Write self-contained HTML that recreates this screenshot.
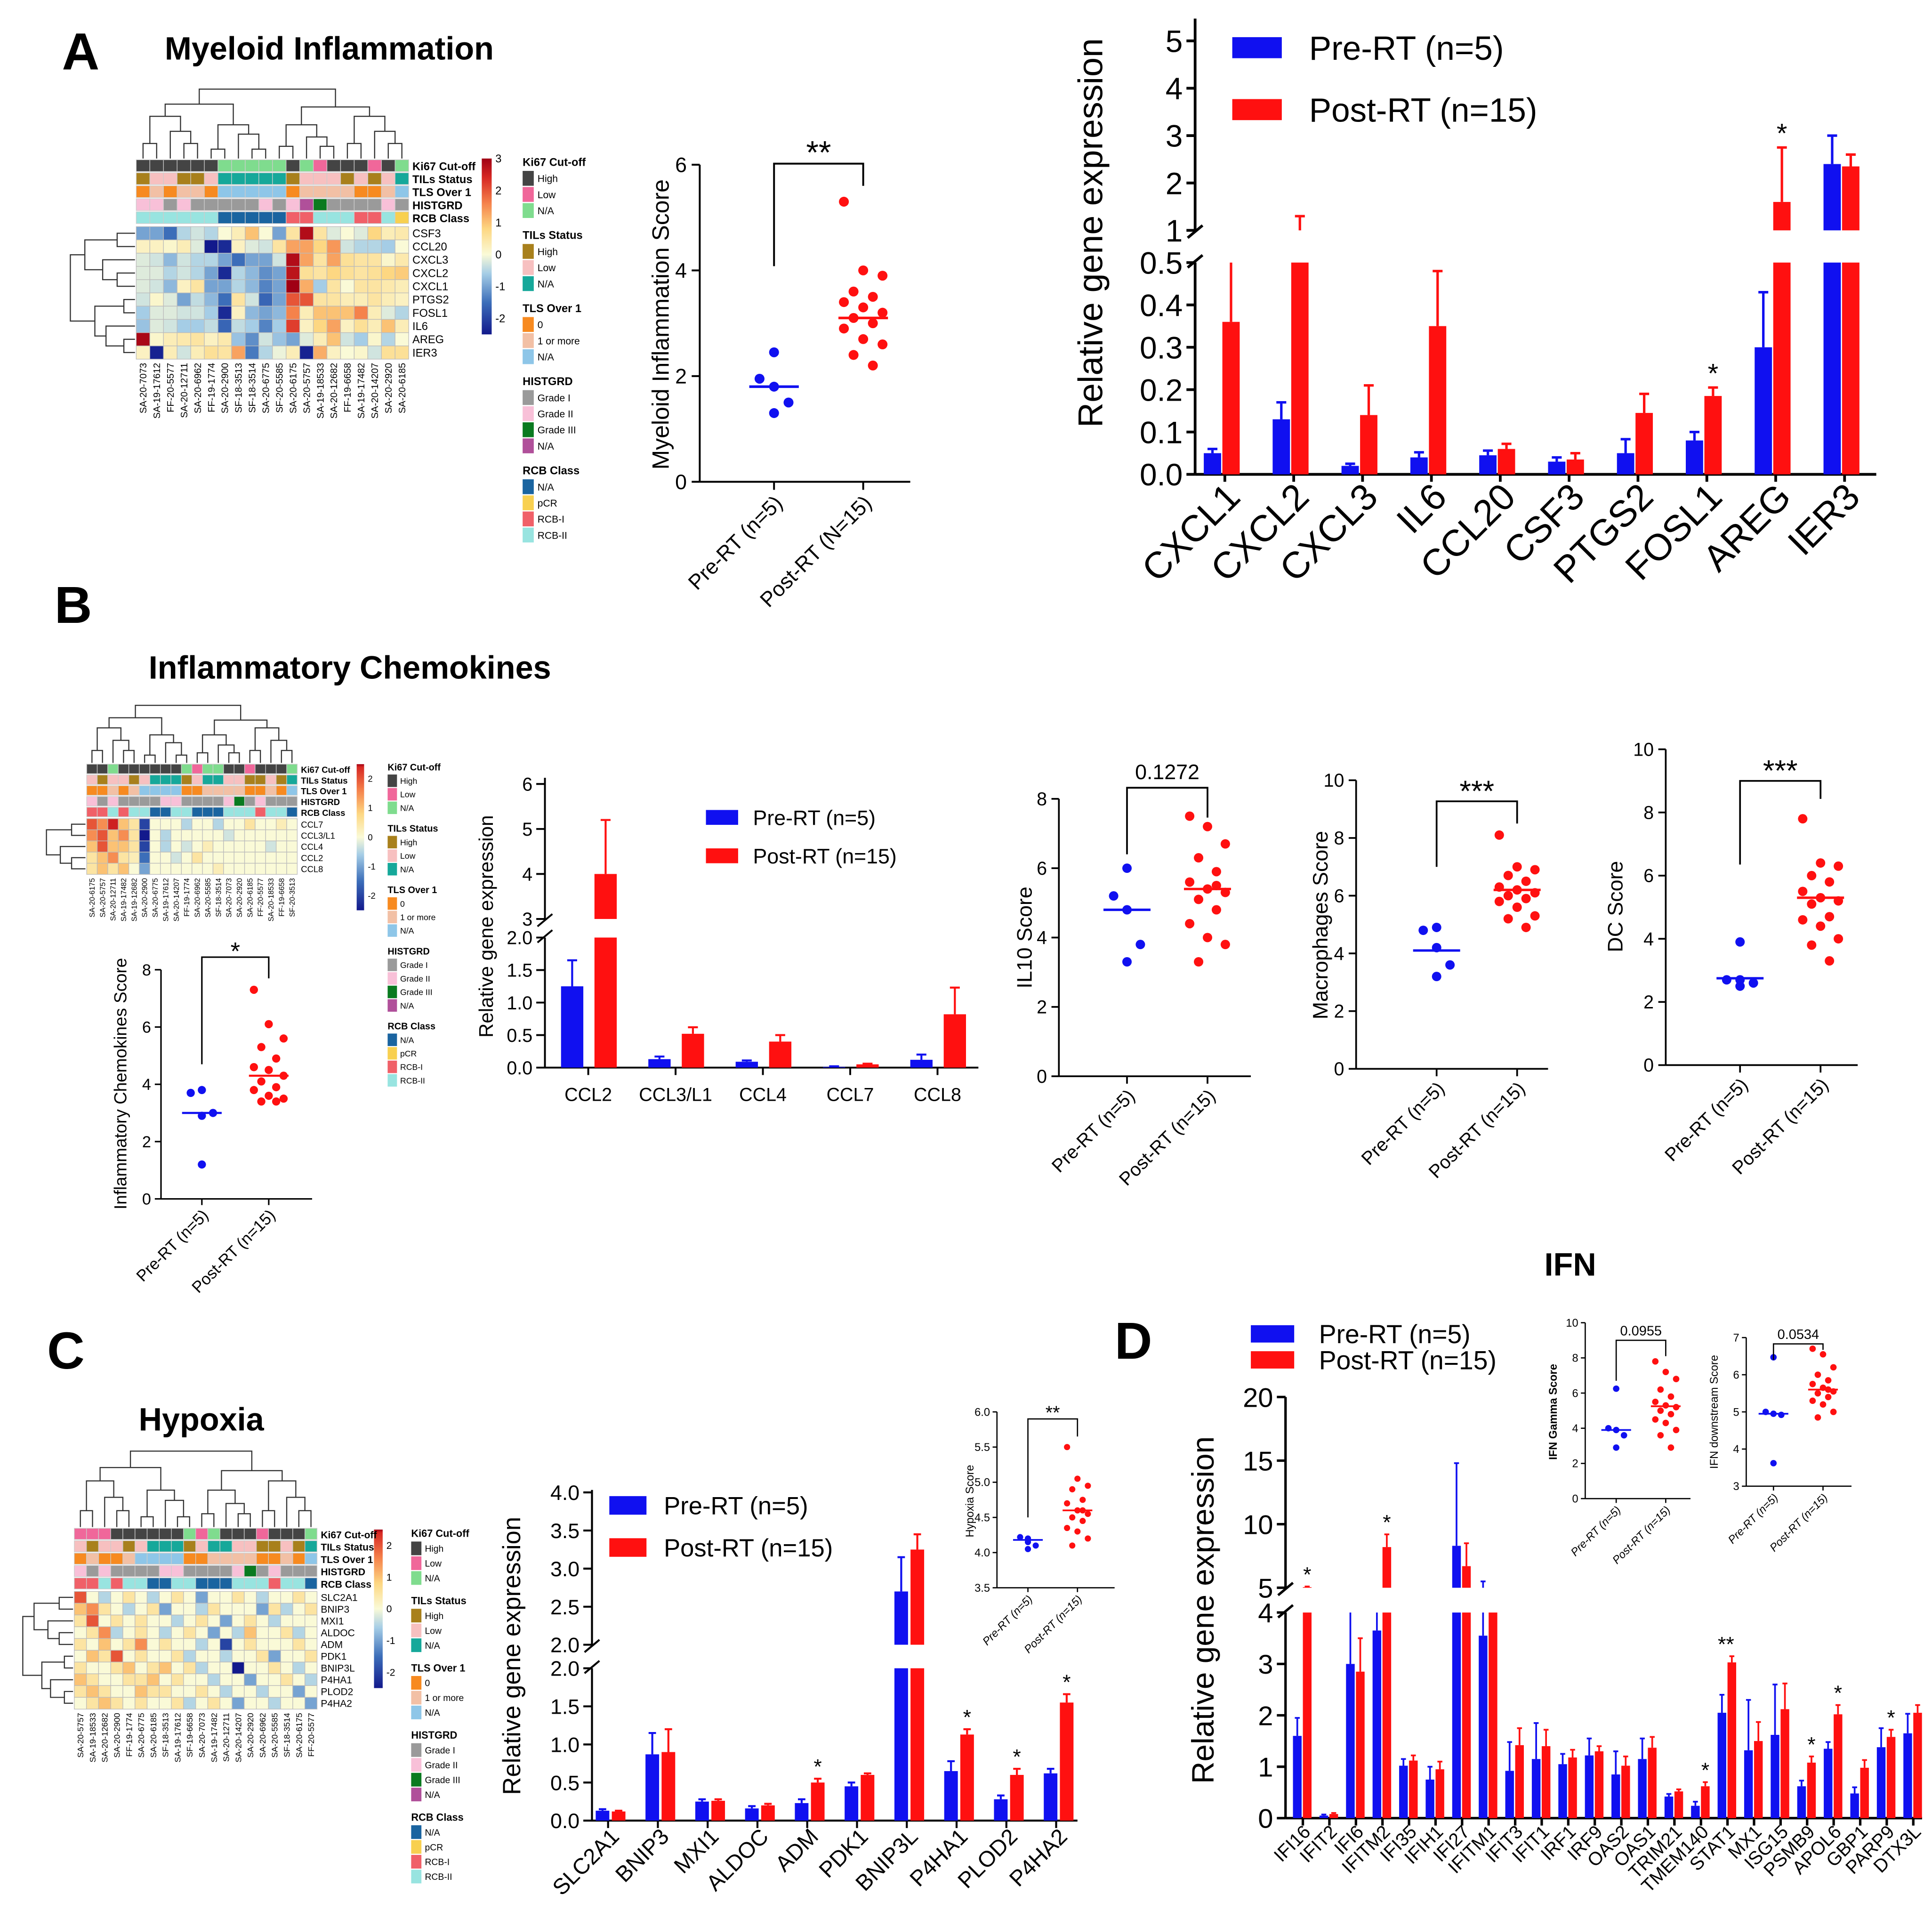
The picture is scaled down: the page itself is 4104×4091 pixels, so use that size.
<!DOCTYPE html>
<html><head><meta charset="utf-8"><style>
html,body{margin:0;padding:0;background:#fff}
svg{display:block}
text{font-family:"Liberation Sans",Arial,sans-serif;fill:#000}
</style></head><body>
<svg id="fig" xmlns="http://www.w3.org/2000/svg" width="4104" height="4091" viewBox="0 0 1560 1555.1" preserveAspectRatio="none">
<defs id="defs"></defs>
<rect x="0" y="0" width="1560" height="1556" fill="#fff"/>
</svg>
<script>
// ---------- DATA ----------
const groups=["Pre-RT (n=5)","Post-RT (n=15)"];
// Panel A scatter
const myeloidPre=[2.45,1.95,1.8,1.5,1.3];
const myeloidPost=[5.3,4.0,3.9,3.6,3.5,3.4,3.3,3.2,3.1,3.0,2.9,2.7,2.6,2.4,2.2];
const myeloidMed=[1.8,3.1];
// Panel A bars
const genesA=["CXCL1","CXCL2","CXCL3","IL6","CCL20","CSF3","PTGS2","FOSL1","AREG","IER3"];
const preA=[0.05,0.13,0.02,0.04,0.045,0.03,0.05,0.08,0.30,2.4];
const preAerr=[0.06,0.17,0.025,0.052,0.056,0.04,0.083,0.10,0.43,3.0];
const postA=[0.36,0.8,0.14,0.35,0.06,0.035,0.145,0.185,1.6,2.35];
const postAerr=[0.6,1.3,0.21,0.48,0.072,0.05,0.19,0.205,2.75,2.6];
const sigA=["","","","","","","","*","*",""];
// Panel B scatters
const chemPre=[3.8,3.7,2.9,3.0,1.2];
const chemPost=[7.3,6.1,5.6,5.3,4.9,4.6,4.5,4.3,4.1,3.9,3.8,3.6,3.5,3.4,3.4];
const chemMed=[3.0,4.3];
const il10Pre=[6.0,5.2,4.8,3.8,3.3];
const il10Post=[7.5,7.2,6.7,6.3,5.9,5.6,5.4,5.3,5.1,4.8,4.4,4.0,3.8,3.3,5.5];
const il10Med=[4.8,5.4];
const macPre=[4.9,4.8,4.2,3.6,3.2];
const macPost=[8.1,7.0,6.9,6.7,6.5,6.3,6.2,6.1,6.0,5.9,5.8,5.6,5.3,5.2,4.9];
const macMed=[4.1,6.2];
const dcPre=[3.9,2.7,2.7,2.6,2.5];
const dcPost=[7.8,6.4,6.3,6.0,5.8,5.5,5.3,5.2,5.1,4.7,4.6,4.4,4.0,3.8,3.3];
const dcMed=[2.75,5.3];
// Panel B bars
const genesB=["CCL2","CCL3/L1","CCL4","CCL7","CCL8"];
const preB=[1.25,0.13,0.09,0.01,0.12];
const preBerr=[1.65,0.17,0.11,0.02,0.2];
const postB=[4.0,0.52,0.40,0.05,0.82];
const postBerr=[5.2,0.62,0.5,0.06,1.23];
// Panel C
const genesC=["SLC2A1","BNIP3","MXI1","ALDOC","ADM","PDK1","BNIP3L","P4HA1","PLOD2","P4HA2"];
const preC=[0.13,0.87,0.25,0.16,0.23,0.45,2.7,0.65,0.28,0.62];
const preCerr=[0.15,1.15,0.28,0.19,0.28,0.5,3.15,0.78,0.33,0.68];
const postC=[0.12,0.9,0.26,0.2,0.5,0.6,3.25,1.13,0.6,1.55];
const postCerr=[0.13,1.2,0.28,0.22,0.55,0.62,3.45,1.2,0.68,1.66];
const sigC=["","","","","*","","","*","*","*"];
const hypPre=[4.2,4.22,4.15,4.1,4.05];
const hypPost=[5.5,5.05,4.95,4.9,4.75,4.7,4.6,4.55,4.5,4.45,4.35,4.3,4.2,4.1,4.6];
const hypMed=[4.18,4.6];
// Panel D
const genesD=["IFI16","IFIT2","IFI6","IFITM2","IFI35","IFIH1","IFI27","IFITM1","IFIT3","IFIT1","IRF1","IRF9","OAS2","OAS1","TRIM21","TMEM140","STAT1","MX1","ISG15","PSMB9","APOL6","GBP1","PARP9","DTX3L"];
const preD=[1.6,0.05,3.0,3.65,1.02,0.75,8.3,3.55,0.92,1.15,1.05,1.22,0.85,1.15,0.42,0.24,2.05,1.32,1.62,0.62,1.35,0.48,1.38,1.65];
const preDerr=[1.95,0.07,4.4,4.4,1.15,1.0,14.8,5.5,1.48,1.85,1.25,1.55,1.3,1.55,0.47,0.32,2.4,2.3,2.6,0.73,1.48,0.6,1.75,2.03];
const postD=[5.05,0.08,2.85,8.2,1.12,0.95,6.7,4.5,1.42,1.4,1.18,1.3,1.02,1.37,0.52,0.62,3.03,1.5,2.12,1.08,2.02,0.98,1.58,2.05];
const postDerr=[5.1,0.1,3.5,9.2,1.22,1.1,8.5,4.6,1.75,1.72,1.33,1.4,1.2,1.58,0.56,0.7,3.15,1.87,2.62,1.2,2.2,1.13,1.72,2.2];
const sigD=["*","","","*","","","","","","","","","","","","*","**","","","*","*","","*",""];
const ifngPre=[6.25,4.0,3.9,3.6,2.9];
const ifngPost=[7.8,7.2,6.8,6.2,5.8,5.5,5.3,5.2,5.0,4.8,4.5,4.3,3.9,3.6,2.9];
const ifngMed=[3.9,5.25];
const ifndPre=[6.47,5.0,4.95,4.92,3.62];
const ifndPost=[6.7,6.55,6.2,6.0,5.85,5.75,5.65,5.55,5.5,5.4,5.3,5.2,5.0,4.85,5.6];
const ifndMed=[4.95,5.6];
// Heatmaps
const colsA=["SA-20-7073","SA-19-17612","FF-20-5577","SA-20-12711","SA-20-6962","FF-19-1774","SA-20-2900","SF-18-3513","SF-18-3514","SA-20-6775","SF-20-5585","SA-20-6175","SA-20-5757","SA-19-18533","SA-20-12682","FF-19-6658","SA-19-17482","SA-20-14207","SA-20-2920","SA-20-6185"];
const rowsA=["CSF3","CCL20","CXCL3","CXCL2","CXCL1","PTGS2","FOSL1","IL6","AREG","IER3"];
const valsA=[
"-1 -1 -1.5 -0.5 -0.3 -0.5 0 0.3 1 0 -1 0.5 2.8 0.5 -0.2 0 -0.2 0.8 0.3 0.4",
"0.2 0.2 0.1 0.3 -0.2 -2.5 -2.3 0.2 -0.2 -0.3 0.5 1.3 1.3 0.8 1.4 -0.3 -0.5 -0.5 -0.6 0",
"-0.2 -0.3 -0.8 -0.3 -0.5 -0.5 -1 -1.5 -1 -1 -0.3 2.8 1.3 0.5 1.3 0.6 0.5 0.5 0.1 0.4",
"-0.2 -0.2 -0.5 -0.3 -0.5 -1 -2.3 -0.5 -0.8 -1.2 -1 2.7 0.6 0.5 0.8 0.6 0.5 0.6 0.8 0.9",
"-0.2 -0.3 -0.8 0.2 0.5 -1 -1 -0.5 -0.8 -1.3 -1 3 1.2 -0.6 0.5 0 0.5 0.5 0.4 0.3",
"-0.3 0.1 -0.2 -1 -0.4 -0.8 -1.5 0.5 -0.3 -1.6 -1 2 2 0.5 0.5 0.3 0.3 0.5 0.3 0.2",
"-0.6 -0.2 -0.2 -0.3 -0.3 -0.6 -2.3 0.2 -0.8 -1 -0.8 1.6 0.3 1 1 1 1.6 0.3 -0.2 -0.5",
"-0.7 -0.2 -0.3 -0.6 -0.6 -0.4 -1.6 -0.4 -0.6 -1.3 -0.6 2.2 0.2 0.8 1.3 0.2 0.6 0.3 1 0.3",
"2.9 0.1 0.3 0.4 0.5 0.2 0.4 -0.7 -1.2 -0.3 -0.7 -1 -0.2 0.3 1 -0.3 -0.6 0.1 -0.5 0",
"0.2 -2.4 0.3 -0.3 0.3 0.6 0.5 1.3 -1.4 -0.5 -0.1 0.3 -2.4 1.2 0.2 0 0.1 -0.3 0.6 0.6"];
const annA=["00000022222021000102","01100122222011101012","01011022222011110012","11010000010132000010","33333300000223332231"];
const colsB=["SA-20-6175","SA-20-5757","SA-20-12711","SA-19-17482","SA-19-12682","SA-20-2900","SA-20-6775","SA-19-17612","SA-20-14207","FF-19-1774","SA-20-6962","SA-20-5585","SF-18-3514","SA-20-7073","SA-20-2920","SA-20-6185","FF-20-5577","SA-20-18533","FF-19-6658","SF-20-3513"];
const rowsB=["CCL7","CCL3/L1","CCL4","CCL2","CCL8"];
const valsB=[
"2 1.5 2.5 1 0.5 -2 0 0 0 -0.5 0 0 -0.5 0 0 0.5 0 0 0.3 0",
"1.5 2 1 1.5 0.5 -2.5 0 -0.5 0 0 0 0 0 -0.3 0 0 0 0 0 0",
"1 2 1 1 0.5 -2 0 -0.5 0 -0.3 0 0.3 0 0 0 0 0 -0.3 0 0",
"0.5 1 1.5 0.5 0.3 -1.5 0 0 -0.3 0 0.5 0 0 0 0 0 0 0 0 0",
"0.5 1 0.5 1 0 -1 0 0 0 0 0 0 0.3 0 0 0 0 0 0 0"];
const annB=["00200000021220010002","10110122201221100102","00101222200111100102","10100001100001201000","22323300330003332330"];
const colsC=["SA-20-5757","SA-19-18533","SA-20-12682","SA-20-2900","FF-19-1774","SA-20-6775","SA-20-6185","SF-18-3513","SA-19-17612","SF-19-6658","SA-20-7073","SA-19-17482","SA-20-12711","SA-20-14207","SA-20-2920","SA-20-6962","SA-20-5585","SF-18-3514","SA-20-6175","FF-20-5577"];
const rowsC=["SLC2A1","BNIP3","MXI1","ALDOC","ADM","PDK1","BNIP3L","P4HA1","PLOD2","P4HA2"];
const valsC=[
"2 0 -0.5 0 0.5 0 -0.5 0 0.5 0 -1 0 0 0.5 0 -0.5 0 0 0.5 0",
"1 1.5 0.5 0 -0.5 0 0.5 -1 0 0 -0.5 0.5 0 0 0 -1 0.5 -0.5 0 0.5",
"0.5 2 0 0.5 0 0.5 0 0 -0.5 0 0.5 0 -1 0 0.5 0 -0.5 0 0 0",
"0 0.5 1.5 -0.5 0 0.5 0 -0.5 0 0.5 0 -1 0 -0.5 1 0 0 0.5 -0.5 0",
"0.5 0 1 0 0.5 1.5 0 0.5 0 0 -0.5 0 -2 0 0.5 0 0 0 0.5 0",
"0 1 0.5 2 0 0.5 0 0 0.5 -0.5 0 0 -0.5 0 0 0.5 -1 0 0 0.5",
"0.5 0 0 0.5 1 0 0.5 1 0 0.5 -0.5 0 0 -2.5 0 0 0.5 0 -0.5 0",
"1 0.5 0 0 0.5 0.5 1 0 0.5 0 0 -0.5 0 0 -1 0 0 0.5 0 -0.5",
"0.5 1 0.5 0 0 1 0.5 0.5 0 0 0.5 0 -0.5 0 0 -0.5 0 0 -1 0",
"0 0.5 1 0.5 0 0.5 0 0 0.5 -0.5 0 0.5 0 -1 0 0 -0.5 0 0 -1"];
const annC=["11100000021200010002","10110122201221100102","01001222200111100102","10100001100001201000","22323300330003332330"];

// ---------- HELPERS ----------
const NS='http://www.w3.org/2000/svg';
const svg=document.getElementById('fig');
const defs=document.getElementById('defs');
function mk(tag,attrs,parent){const e=document.createElementNS(NS,tag);for(const k in attrs)e.setAttribute(k,attrs[k]);(parent||svg).appendChild(e);return e;}
function tx(x,y,s,size,extra){const o=Object.assign({x:x,y:y,'font-size':size},extra||{});const e=mk('text',o);e.textContent=s;return e;}
const BLUE='#1010f0',RED='#ff1010';
function ln(x1,y1,x2,y2,w,c){return mk('line',{x1:x1,y1:y1,x2:x2,y2:y2,stroke:c||'#000','stroke-width':w||1.5});}

// Titles
let t;
t=tx(50,56,"A",42,{'font-weight':'bold'});


t=tx(133,48,"Myeloid Inflammation",26,{'font-weight':'bold'});


t=tx(44,503,"B",42,{'font-weight':'bold'});


t=tx(120,548,"Inflammatory Chemokines",26,{'font-weight':'bold'});


t=tx(38,1105,"C",42,{'font-weight':'bold'});


t=tx(112,1155,"Hypoxia",26,{'font-weight':'bold'});


t=tx(900,1097,"D",42,{'font-weight':'bold'});


t=tx(1247,1030,"IFN",26,{'font-weight':'bold'});



// ---------- SCATTER ----------
function scatter(c){
  const g=mk('g',{});
  
  
  const y=v=>c.y0-(v-c.min)/(c.max-c.min)*(c.y0-c.y1);
  ln(c.ax,c.y0,c.ax,y(c.max),c.lw,'#000');
  ln(c.ax,c.y0,c.xEnd,c.y0,c.lw,'#000');
  c.ticks.forEach(v=>{ln(c.ax-5*c.s,y(v),c.ax,y(v),c.lw);
    const e=tx(c.ax-8*c.s,y(v)+c.fs*0.35,v.toFixed(c.dec),c.fs,{'text-anchor':'end'});
    
    });
  const yl=tx(0,0,c.ylabel,c.yfs,{'text-anchor':'middle',transform:`translate(${c.ylx},${c.yly}) rotate(-90)`,'font-weight':c.ybold?'bold':'normal'});
  
  
  c.cats.forEach((cx,i)=>{ln(cx,c.y0,cx,c.y0+5*c.s,c.lw);
    const e=tx(0,0,c.catLabels[i],c.fs,{'text-anchor':'end',transform:`translate(${cx+6*c.s},${c.y0+14*c.s}) rotate(-45)`,'font-style':c.italic?'italic':'normal'});
    
    });
  const sets=[c.pre,c.post],cols=[BLUE,RED];
  sets.forEach((arr,k)=>{
    arr.forEach((v,i)=>{const off=k==0?[0,-9,0,9,0][i%5]:[-12,-6,0,6,12][(i*2)%5];
      const p=mk('circle',{cx:c.cats[k]+off*c.s,cy:y(v),r:c.r,fill:cols[k]});
      
      });
    const m=ln(c.cats[k]-c.mw,y(c.med[k]),c.cats[k]+c.mw,y(c.med[k]),c.lw*1.4,cols[k]);
    
    
  });
  const b=mk('path',{d:`M${c.cats[0]} ${y(c.brL)}V${y(c.brT)}H${c.cats[1]}V${y(c.brR)}`,fill:'none',stroke:'#000','stroke-width':c.lw});
  
  
  const st=tx((c.cats[0]+c.cats[1])/2,y(c.brT)-c.sigOff,c.sig,c.sigfs,{'text-anchor':'middle'});
  
  
}
scatter({name:'myeloid-score-plot',ax:565,xEnd:735,y0:389,y1:133,min:0,max:6,ticks:[0,2,4,6],dec:0,fs:17,s:1.3,lw:1.5,cats:[625,697],catLabels:groups.map(s=>s.replace('n=15','N=15')),pre:myeloidPre,post:myeloidPost,med:myeloidMed,r:4,mw:20,ylabel:"Myeloid Inflammation Score",yfs:19,ylx:540,yly:262,brT:6.02,brL:4.08,brR:5.6,sig:"**",sigfs:26,sigOff:0});
scatter({name:'inflammatory-chemokines-score-plot',ax:130,xEnd:252,y0:968,y1:783,min:0,max:8,ticks:[0,2,4,6,8],dec:0,fs:13,s:1,lw:1.2,cats:[163,217],catLabels:groups,pre:chemPre,post:chemPost,med:chemMed,r:3.3,mw:16,ylabel:"Inflammatory Chemokines Score",yfs:14,ylx:102,yly:875,brT:8.44,brL:4.7,brR:7.7,sig:"*",sigfs:20,sigOff:-2});
scatter({name:'il10-score-plot',ax:855,xEnd:1010,y0:869,y1:645,min:0,max:8,ticks:[0,2,4,6,8],dec:0,fs:15,s:1.2,lw:1.4,cats:[910,975],catLabels:groups,pre:il10Pre,post:il10Post,med:il10Med,r:3.8,mw:19,ylabel:"IL10 Score",yfs:17,ylx:833,yly:757,brT:8.32,brL:6.4,brR:7.46,sig:"0.1272",sigfs:17,sigOff:7});
scatter({name:'macrophages-score-plot',ax:1095,xEnd:1250,y0:863,y1:630,min:0,max:10,ticks:[0,2,4,6,8,10],dec:0,fs:15,s:1.2,lw:1.4,cats:[1160,1225],catLabels:groups,pre:macPre,post:macPost,med:macMed,r:3.8,mw:19,ylabel:"Macrophages Score",yfs:17,ylx:1072,yly:747,brT:9.27,brL:7.0,brR:8.5,sig:"***",sigfs:24,sigOff:0});
scatter({name:'dc-score-plot',ax:1345,xEnd:1500,y0:860,y1:605,min:0,max:10,ticks:[0,2,4,6,8,10],dec:0,fs:15,s:1.2,lw:1.4,cats:[1405,1470],catLabels:groups,pre:dcPre,post:dcPost,med:dcMed,r:3.8,mw:19,ylabel:"DC Score",yfs:17,ylx:1310,yly:732,brT:9.0,brL:6.35,brR:8.43,sig:"***",sigfs:24,sigOff:0});
scatter({name:'hypoxia-score-inset',ax:805,xEnd:900,y0:1282,y1:1140,min:3.5,max:6,ticks:[3.5,4,4.5,5,5.5,6],dec:1,fs:9,s:0.7,lw:1,cats:[830,870],catLabels:groups,pre:hypPre,post:hypPost,med:hypMed,r:2.5,mw:12,ylabel:"Hypoxia Score",yfs:9,ylx:786,yly:1212,brT:5.9,brL:4.5,brR:5.65,sig:"**",sigfs:15,sigOff:0,italic:true});
scatter({name:'ifn-gamma-score-inset',ax:1280,xEnd:1365,y0:1210,y1:1068,min:0,max:10,ticks:[0,2,4,6,8,10],dec:0,fs:9,s:0.7,lw:1,cats:[1305,1345],catLabels:groups,pre:ifngPre,post:ifngPost,med:ifngMed,r:2.6,mw:12,ylabel:"IFN Gamma Score",yfs:9,ybold:true,ylx:1257,yly:1140,brT:9.0,brL:6.7,brR:8.1,sig:"0.0955",sigfs:11,sigOff:4,italic:true});
scatter({name:'ifn-downstream-score-inset',ax:1410,xEnd:1495,y0:1200,y1:1080,min:3,max:7,ticks:[3,4,5,6,7],dec:0,fs:9,s:0.7,lw:1,cats:[1432,1472],catLabels:groups,pre:ifndPre,post:ifndPost,med:ifndMed,r:2.6,mw:12,ylabel:"IFN downstream Score",yfs:9,ylx:1387,yly:1140,brT:6.83,brL:6.4,brR:6.67,sig:"0.0534",sigfs:11,sigOff:4,italic:true});

// ---------- BARS ----------
function bars(c){
  const g=mk('g',{});
  
  
  const S=c.segs;
  const y=v=>{const s0=S[0];if(v<=s0.b)return s0.pa-(v-s0.a)/(s0.b-s0.a)*(s0.pa-s0.pb);
    const s1=S[1];if(v>=s1.a){const vv=Math.min(v,s1.top);return s1.pa-(vv-s1.a)/(s1.b-s1.a)*(s1.pa-s1.pb);}return s0.pb;};
  ln(c.ax,S[0].pa,c.ax,S[0].pb,c.lw);
  ln(c.ax,S[1].pa,c.ax,S[1].axEnd,c.lw);
  ln(c.ax,S[0].pa,c.xEnd,S[0].pa,c.lw);
  ln(c.ax-6,S[0].pb+4,c.ax+6,S[0].pb-6,c.lw);
  ln(c.ax-6,S[1].pa+6,c.ax+6,S[1].pa-4,c.lw);
  S.forEach(s=>s.ticks.forEach(v=>{const yy=s.pa-(v-s.a)/(s.b-s.a)*(s.pa-s.pb);ln(c.ax-7,yy,c.ax,yy,c.lw);
    const e=tx(c.ax-10,yy+c.fs*0.36,v.toFixed(s.dec),c.fs,{'text-anchor':'end'});
    
    }));
  const yl=tx(0,0,c.ylabel,c.yfs,{'text-anchor':'middle',transform:`translate(${c.ylx},${c.yly}) rotate(-90)`});
  
  
  const series=[[c.pre,c.preErr,BLUE,c.bOff],[c.post,c.postErr,RED,c.rOff]];
  c.cats.forEach((cat,i)=>{
    const cx=c.c0+i*c.sp;
    series.forEach((sr,k)=>{
      const v=sr[0][i],e=sr[1][i],x=cx+sr[3],col=sr[2];
      const h0=Math.min(v,S[0].b);
      const r1=mk('rect',{x:x,y:y(h0),width:c.bw,height:S[0].pa-y(h0),fill:col});
      
      
      if(v>S[1].a){const r2=mk('rect',{x:x,y:y(v),width:c.bw,height:S[1].pa-y(v),fill:col});
        
        }
      const ex=x+c.bw/2;
      let etop=null;
      if(e>v){
        if(v<=S[0].b){const top=Math.min(e,S[0].b);ln(ex,y(v),ex,y(top),c.ew,col);if(e<=S[0].b)etop=y(e);}
        if(e>=S[1].a){const from=Math.max(v,S[1].a);ln(ex,y(from),ex,y(e),c.ew,col);etop=y(e);}
        if(etop!==null)ln(ex-c.cap,etop,ex+c.cap,etop,c.ew,col);
      }
      if(k==1&&c.sig[i]){const st=tx(ex-(c.sig[i].length>1?c.sp*0.22:0),Math.min(y(e),y(v))-4,c.sig[i],c.sfs,{'text-anchor':'middle'});
        
        }
    });
    ln(cx,S[0].pa,cx,S[0].pa+6,c.lw);
    const lab=c.rot?tx(0,0,cat,c.xfs,{'text-anchor':'end',transform:`translate(${cx+c.xdx},${S[0].pa+c.xdy}) rotate(-45)`}):tx(cx,S[0].pa+c.xdy,cat,c.xfs,{'text-anchor':'middle'});
    
    
  });
  c.leg.forEach((L,k)=>{const r=mk('rect',{x:L[0],y:L[1],width:c.lw2,height:c.lh,fill:k?RED:BLUE});
    
    
    const e=tx(L[0]+c.lw2+c.lgap,L[1]+c.lh*0.5+c.lfs*0.36,groups[k],c.lfs);
    
    });
}
bars({name:'myeloid-gene-bar-chart',ax:965,xEnd:1515,lw:2.2,fs:25,segs:[{a:0,b:0.5,pa:383,pb:212,ticks:[0,0.1,0.2,0.3,0.4,0.5],dec:1},{a:1,b:5,pa:186,pb:33,top:5.5,axEnd:15,ticks:[1,2,3,4,5],dec:0}],
  cats:genesA,pre:preA,preErr:preAerr,post:postA,postErr:postAerr,sig:sigA,c0:989,sp:55.6,bw:14,bOff:-17,rOff:-2,ew:2,cap:4,sfs:22,
  rot:true,xfs:30,xdx:14,xdy:20,ylabel:"Relative gene expression",yfs:28,ylx:890,yly:188,
  leg:[[995,30],[995,80]],lw2:40,lh:17,lgap:22,lfs:27});
bars({name:'chemokine-gene-bar-chart',ax:440,xEnd:790,lw:1.5,fs:15,segs:[{a:0,b:2,pa:862,pb:757,ticks:[0,0.5,1,1.5,2],dec:1},{a:3,b:6,pa:742,pb:633,top:6,axEnd:628,ticks:[3,4,5,6],dec:0}],
  cats:genesB,pre:preB,preErr:preBerr,post:postB,postErr:postBerr,sig:["","","","",""],c0:475,sp:70.5,bw:18,bOff:-22,rOff:5,ew:1.6,cap:4,sfs:16,
  rot:false,xfs:15,xdx:0,xdy:27,ylabel:"Relative gene expression",yfs:16,ylx:398,yly:748,
  leg:[[570,654],[570,685]],lw2:26,lh:12,lgap:12,lfs:17});
bars({name:'hypoxia-gene-bar-chart',ax:478,xEnd:870,lw:1.6,fs:17,segs:[{a:0,b:2,pa:1470,pb:1347,ticks:[0,0.5,1,1.5,2],dec:1},{a:2.001,b:4,pa:1328,pb:1205,top:4,axEnd:1203,ticks:[2.001,2.5,3,3.5,4],dec:1}],
  cats:genesC,pre:preC,preErr:preCerr,post:postC,postErr:postCerr,sig:sigC,c0:491,sp:40.2,bw:11,bOff:-10,rOff:3,ew:1.6,cap:3,sfs:17,
  rot:true,xfs:18,xdx:10,xdy:14,ylabel:"Relative gene expression",yfs:20,ylx:420,yly:1337,
  leg:[[492,1208],[492,1242]],lw2:30,lh:15,lgap:14,lfs:20});
bars({name:'ifn-gene-bar-chart',ax:1038,xEnd:1552,lw:2,fs:22,segs:[{a:0,b:4,pa:1468,pb:1302,ticks:[0,1,2,3,4],dec:0},{a:5,b:20,pa:1282,pb:1128,top:20,axEnd:1128,ticks:[5,10,15,20],dec:0}],
  cats:genesD,pre:preD,preErr:preDerr,post:postD,postErr:postDerr,sig:sigD,c0:1052,sp:21.43,bw:7,bOff:-8,rOff:0,ew:1.4,cap:2,sfs:17,
  rot:true,xfs:15,xdx:7,xdy:12,ylabel:"Relative gene expression",yfs:25,ylx:980,yly:1300,
  leg:[[1010,1070],[1010,1091]],lw2:35,lh:14,lgap:20,lfs:21});

// ---------- HEATMAPS ----------
const stops=[[-2.5,[18,25,140]],[-1.5,[60,110,185]],[-0.6,[165,205,230]],[0,[250,250,215]],[0.8,[253,215,130]],[1.6,[245,130,75]],[2.4,[215,40,35]],[3,[160,0,20]]];
function cmap(v){if(v<=stops[0][0])return `rgb(${stops[0][1]})`;for(let i=1;i<stops.length;i++){if(v<=stops[i][0]){const a=stops[i-1],b=stops[i],f=(v-a[0])/(b[0]-a[0]);return 'rgb('+a[1].map((c,j)=>Math.round(c+(b[1][j]-c)*f)).join(',')+')';}}return `rgb(${stops[stops.length-1][1]})`;}
const pals=[["#444","#f0679a","#7fdc8e"],["#a8801c","#f7c0c0","#16a89a"],["#f78a20","#f2c0a5","#8ec6e8"],["#9a9a9a","#f8c0d8","#0a7a20","#b0509a"],["#1a64a0","#f8d050","#f06068","#98e4e0"]];
const annNames=["Ki67 Cut-off","TILs Status","TLS Over 1","HISTGRD","RCB Class"];
const legItems=[["High","Low","N/A"],["High","Low","N/A"],["0","1 or more","N/A"],["Grade I","Grade II","Grade III","N/A"],["N/A","pCR","RCB-I","RCB-II"]];
let gid=0;
function heat(c){
  const g=mk('g',{});
  
  
  const n=c.cols.length,W=n*c.cw;
  c.ann.forEach((row,r)=>{for(let j=0;j<n;j++){const e=mk('rect',{x:c.x+j*c.cw,y:c.ya+r*c.ah,width:c.cw,height:c.ah-1,fill:pals[r][+row[j]],stroke:'#ccc','stroke-width':0.5},g);
      
      }
    const l=tx(c.x+W+3,c.ya+r*c.ah+c.ah*0.8,annNames[r],c.fs,{'font-family':'Liberation Serif','font-weight':'bold'});
    
    });
  c.vals.forEach((row,r)=>{row.split(' ').map(Number).forEach((v,j)=>{const e=mk('rect',{x:c.x+j*c.cw,y:c.yg+r*c.gh,width:c.cw,height:c.gh,fill:cmap(v),stroke:'#bbb','stroke-width':0.5},g);
      
      });
    const l=tx(c.x+W+3,c.yg+r*c.gh+c.gh*0.8,c.rows[r],c.fs);
    
    });
  const yb=c.yg+c.rows.length*c.gh;
  c.cols.forEach((s,j)=>{const e=tx(0,0,s,c.fs*0.85,{'text-anchor':'end',transform:`translate(${c.x+j*c.cw+c.cw*0.75},${yb+3}) rotate(-90)`});
    
    });
  function tree(lo,hi,pos,base,step,horiz,depth){if(hi-lo==1)return {p:pos(lo),h:base};const mid=Math.floor((lo+hi)/2);
    const L=tree(lo,mid,pos,base,step,horiz,depth+1),R=tree(mid,hi,pos,base,step,horiz,depth+1);const h=Math.min(L.h,R.h)-step*(1+((lo*7+hi)%3)*0.3);
    const d=horiz?`M${L.h} ${L.p}H${h}V${R.p}H${R.h}`:`M${L.p} ${L.h}V${h}H${R.p}V${R.h}`;
    const p=mk('path',{d:d,fill:'none',stroke:'#333','stroke-width':0.9},g);
    
    
    return {p:(L.p+R.p)/2,h:h};}
  tree(0,n,j=>c.x+(j+0.5)*c.cw,c.ya-1,(c.ya-c.dTop)/7,false,0);
  tree(0,c.rows.length,r=>c.yg+(r+0.5)*c.gh,c.x-1,(c.x-c.dLeft)/6,true,0);
  gid++;
  const lg=mk('linearGradient',{id:'cg'+gid,x1:0,y1:1,x2:0,y2:0},defs);
  stops.forEach(s=>{mk('stop',{offset:((s[0]-c.smin)/(c.smax-c.smin)),'stop-color':`rgb(${s[1]})`},lg);});
  const sb=mk('rect',{x:c.sx,y:c.sy,width:c.sw,height:c.sh,fill:`url(#cg${gid})`},g);
  
  
  c.sticks.forEach(v=>{const yy=c.sy+c.sh-(v-c.smin)/(c.smax-c.smin)*c.sh;const e=tx(c.sx+c.sw+3,yy+c.fs*0.35,String(v),c.fs);
    
    });
  let yy=c.ly;const s=c.ls;
  annNames.forEach((nm,r)=>{const e=tx(c.lx,yy,nm,9*s,{'font-weight':'bold'});
    
    
    yy+=4*s;
    legItems[r].forEach((it,k)=>{const q=mk('rect',{x:c.lx,y:yy,width:9*s,height:12*s,fill:pals[r][k]},g);
      
      
      const l=tx(c.lx+12*s,yy+9*s,it,8*s);
      
      
      yy+=13*s;});
    yy+=16*s;});
}
heat({name:'myeloid-heatmap',x:110,cols:colsA,cw:11,ya:129,ah:10.5,yg:183,gh:10.7,rows:rowsA,vals:valsA,ann:annA,fs:9,dTop:76,dLeft:56,sx:389,sy:128,sw:8,sh:142,smin:-2.5,smax:3,sticks:[3,2,1,0,-1,-2],lx:422,ly:134,ls:1.0});
heat({name:'chemokine-heatmap',x:70,cols:colsB,cw:8.5,ya:617,ah:8.7,yg:661,gh:9,rows:rowsB,vals:valsB,ann:annB,fs:7,dTop:573,dLeft:28,sx:288,sy:617,sw:6,sh:118,smin:-2.5,smax:2.5,sticks:[2,1,0,-1,-2],lx:313,ly:622,ls:0.84});
heat({name:'hypoxia-heatmap',x:60,cols:colsC,cw:9.8,ya:1234,ah:10,yg:1285,gh:9.5,rows:rowsC,vals:valsC,ann:annC,fs:8,dTop:1176,dLeft:18,sx:302,sy:1235,sw:7,sh:128,smin:-2.5,smax:2.5,sticks:[2,1,0,-1,-2],lx:332,ly:1241,ls:0.92});
</script>
</body></html>
